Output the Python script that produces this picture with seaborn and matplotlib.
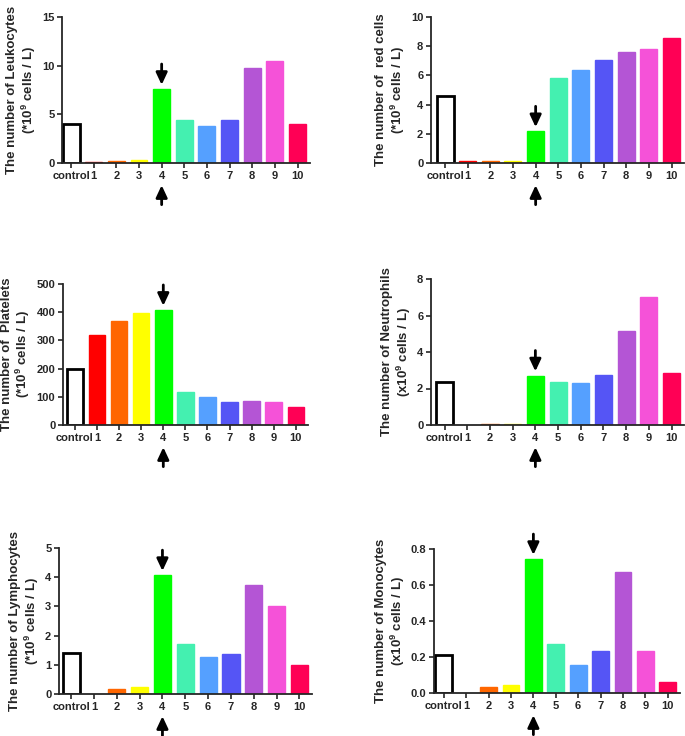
import matplotlib
matplotlib.use("Agg")
import matplotlib.pyplot as plt
import seaborn as sns
import pandas as pd

# categories and per-panel values
groups = ["control", "1", "2", "3", "4", "5", "6", "7", "8", "9", "10"]
bar_colors = ["#FFFFFF", "#FF0000", "#FF6600", "#FFFF00", "#00FF00", "#44F0B0",
              "#55A0FF", "#5555F5", "#B455D5", "#F552D8", "#FF0055"]

leukocytes = [4.04, 0.15, 0.22, 0.35, 7.6, 4.38, 3.8, 4.45, 9.73, 10.45, 4.04]
red_cells = [4.62, 0.13, 0.13, 0.11, 2.17, 5.81, 6.36, 7.07, 7.62, 7.8, 8.58]
platelets = [197, 320, 368, 396, 408, 116, 98, 82, 84, 83, 64]
neutrophils = [2.36, 0.0, 0.07, 0.07, 2.71, 2.33, 2.29, 2.75, 5.15, 7.0, 2.84]
lymphocytes = [1.41, 0.0, 0.16, 0.23, 4.07, 1.70, 1.27, 1.36, 3.75, 3.01, 1.0]
monocytes = [0.212, 0.0, 0.033, 0.043, 0.744, 0.273, 0.153, 0.234, 0.675, 0.234, 0.063]

ylabels = [
    "The number of Leukocytes\n(*10$^{9}$ cells / L)",
    "The number of  red cells\n(*10$^{9}$ cells / L)",
    "The number of  Platelets\n(*10$^{9}$ cells / L)",
    "The number of Neutrophils\n(x10$^{9}$ cells / L)",
    "The number of Lymphocytes\n(*10$^{9}$ cells / L)",
    "The number of Monocytes\n(x10$^{9}$ cells / L)",
]
yticks = [
    [0, 5, 10, 15],
    [0, 2, 4, 6, 8, 10],
    [0, 100, 200, 300, 400, 500],
    [0, 2, 4, 6, 8],
    [0, 1, 2, 3, 4, 5],
    [0.0, 0.2, 0.4, 0.6, 0.8],
]
values = [leukocytes, red_cells, platelets, neutrophils, lymphocytes, monocytes]

# panel boxes in pixels: left, right, top, bottom, x-limit left
boxes = [
    (62, 310, 17, 163, -0.40),
    (431, 684, 17, 163, -0.62),
    (63, 308, 284, 425, -0.54),
    (431, 684, 279, 425, -0.60),
    (59, 312, 548, 694, -0.53),
    (434, 680, 549, 693, -0.44),
]

sns.set_theme(style="ticks")
plt.rcParams["font.family"] = ["Liberation Sans", "DejaVu Sans"]
plt.rcParams["font.weight"] = "bold"
plt.rcParams["mathtext.fontset"] = "custom"
plt.rcParams["mathtext.rm"] = "Liberation Sans:bold"
plt.rcParams["mathtext.it"] = "Liberation Sans:bold"
plt.rcParams["mathtext.bf"] = "Liberation Sans:bold"

W, H = 685, 736
fig = plt.figure(figsize=(W / 100, H / 100), dpi=100)

palette = dict(zip(groups, bar_colors))
arrow = dict(arrowstyle="-|>,head_length=0.6,head_width=0.28", color="black",
             lw=2, mutation_scale=12, shrinkA=0)

for vals, lab, ticks, (x0, x1, yt, yb, xmin) in zip(values, ylabels, yticks, boxes):
    ax = fig.add_axes([x0 / W, 1 - yb / H, (x1 - x0) / W, (yb - yt) / H])
    df = pd.DataFrame({"group": groups, "value": vals})
    sns.barplot(data=df, x="group", y="value", hue="group", palette=palette,
                order=groups, hue_order=groups, legend=False, width=0.75,
                saturation=1, linewidth=0, ax=ax)
    for i, cont in enumerate(ax.containers):
        for p in cont:
            if i == 0:
                # control bar: open with black outline
                p.set_edgecolor("black")
                p.set_linewidth(2)
            elif vals[i] > 0:
                p.set_edgecolor(bar_colors[i])
                p.set_linewidth(1)

    ax.set_xlim(xmin, 10.55)
    ax.set_ylim(ticks[0], ticks[-1])
    ax.set_yticks(ticks)
    if ticks[-1] < 1:
        ax.set_yticklabels([f"{t:.1f}" for t in ticks])
    ax.set_xlabel("")
    ax.set_ylabel(lab, fontsize=9.5, fontweight="bold", labelpad=3, linespacing=1.1)
    ax.tick_params(axis="both", labelsize=8, width=1.2, length=3.5, pad=2)
    for t in ax.get_xticklabels() + ax.get_yticklabels():
        t.set_fontweight("bold")
    sns.despine(ax=ax)
    for s in ["left", "bottom"]:
        ax.spines[s].set_linewidth(1.3)

    # arrows marking group 4: above the bar and below the tick label
    ax.annotate("", xy=(4, vals[4]), xytext=(0, 18), textcoords="offset points",
                arrowprops=dict(arrow, shrinkB=3))
    ax.annotate("", xy=(4, 0), xycoords=("data", "axes fraction"),
                xytext=(0, -30), textcoords="offset points",
                arrowprops=dict(arrow, shrinkB=16), annotation_clip=False)

fig.savefig("out.png", dpi=100)
